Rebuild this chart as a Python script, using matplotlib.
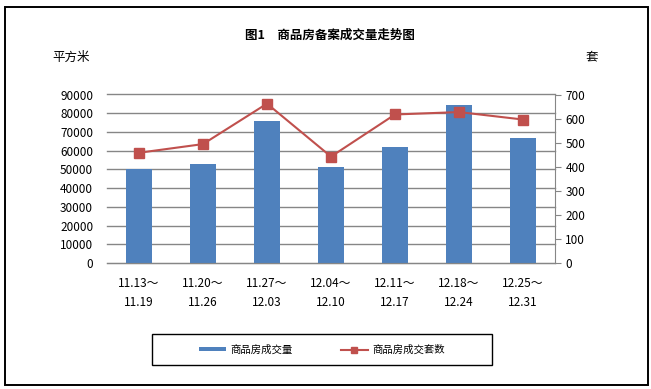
import matplotlib.pyplot as plt
import matplotlib.patches as mpatches
import numpy as np

plt.rcParams['font.family'] = ['Noto Sans CJK SC', 'DejaVu Sans']

# data
periods = ["11.13～\n11.19", "11.20～\n11.26", "11.27～\n12.03", "12.04～\n12.10",
           "12.11～\n12.17", "12.18～\n12.24", "12.25～\n12.31"]
area = [50000, 52800, 75800, 51200, 62000, 84500, 66800]
units = [458, 494, 662, 442, 617, 627, 596]

bar_color = "#4F81BD"
line_color = "#C0504D"

fig = plt.figure(figsize=(6.51, 3.89), dpi=100)

# outer frame
fig.patches.append(mpatches.Rectangle((5 / 651, 4 / 389), 643 / 651, 378 / 389,
                                      transform=fig.transFigure, fill=False,
                                      edgecolor="black", linewidth=1.4))

ax = fig.add_axes([107 / 651, 1 - 263 / 389, 448 / 651, 168.5 / 389])
x = np.arange(len(periods))
ax.bar(x, area, width=0.4, color=bar_color, zorder=2, label="商品房成交量")
ax.set_xlim(-0.5, len(periods) - 0.5)
ax.set_ylim(0, 90000)
ax.set_yticks(range(0, 90001, 10000))
ax.yaxis.grid(True, color="#868686", linewidth=1, zorder=0)
for gl in ax.get_ygridlines():
    gl.set_clip_on(False)
ax.set_axisbelow(True)
ax.tick_params(axis="y", length=0, labelsize=8.5, pad=10)
ax.set_xticks(x)
ax.set_xticklabels(periods, fontsize=8.5, linespacing=1.6)
ax.tick_params(axis="x", length=0, pad=10)
for s in ["top", "left", "right"]:
    ax.spines[s].set_visible(False)
ax.spines["bottom"].set_color("#868686")

ax2 = ax.twinx()
ax2.plot(x, units, color=line_color, linewidth=1.5, marker="s", markersize=7,
         zorder=3, label="商品房成交套数")
ax2.set_ylim(0, 700)
ax2.set_yticks(range(0, 701, 100))
ax2.tick_params(axis="y", length=4, color="#868686", labelsize=8.5)
for s in ["top", "left", "bottom"]:
    ax2.spines[s].set_visible(False)
ax2.spines["right"].set_color("#868686")

fig.text(0.507, 1 - 35 / 389, "图1　商品房备案成交量走势图", ha="center", va="center",
         fontsize=9, fontweight="bold")
fig.text(71 / 651, 1 - 57 / 389, "平方米", ha="center", va="center", fontsize=9)
fig.text(592 / 651, 1 - 57 / 389, "套", ha="center", va="center", fontsize=9)

# legend box drawn separately, entries centred inside it
fig.patches.append(mpatches.Rectangle((152 / 651, 1 - 365 / 389), 340 / 651, 31 / 389,
                                      transform=fig.transFigure, fill=False,
                                      edgecolor="black", linewidth=1))
h1, l1 = ax.get_legend_handles_labels()
h2, l2 = ax2.get_legend_handles_labels()
leg = fig.legend(h1 + h2, l1 + l2, loc="center", ncol=2,
                 bbox_to_anchor=(322 / 651, 1 - 349.5 / 389),
                 fontsize=7.5, frameon=False, handlelength=2.6, handleheight=0.3,
                 handletextpad=0.4, columnspacing=4.6, markerscale=0.7)

fig.savefig("out.png", dpi=100)
